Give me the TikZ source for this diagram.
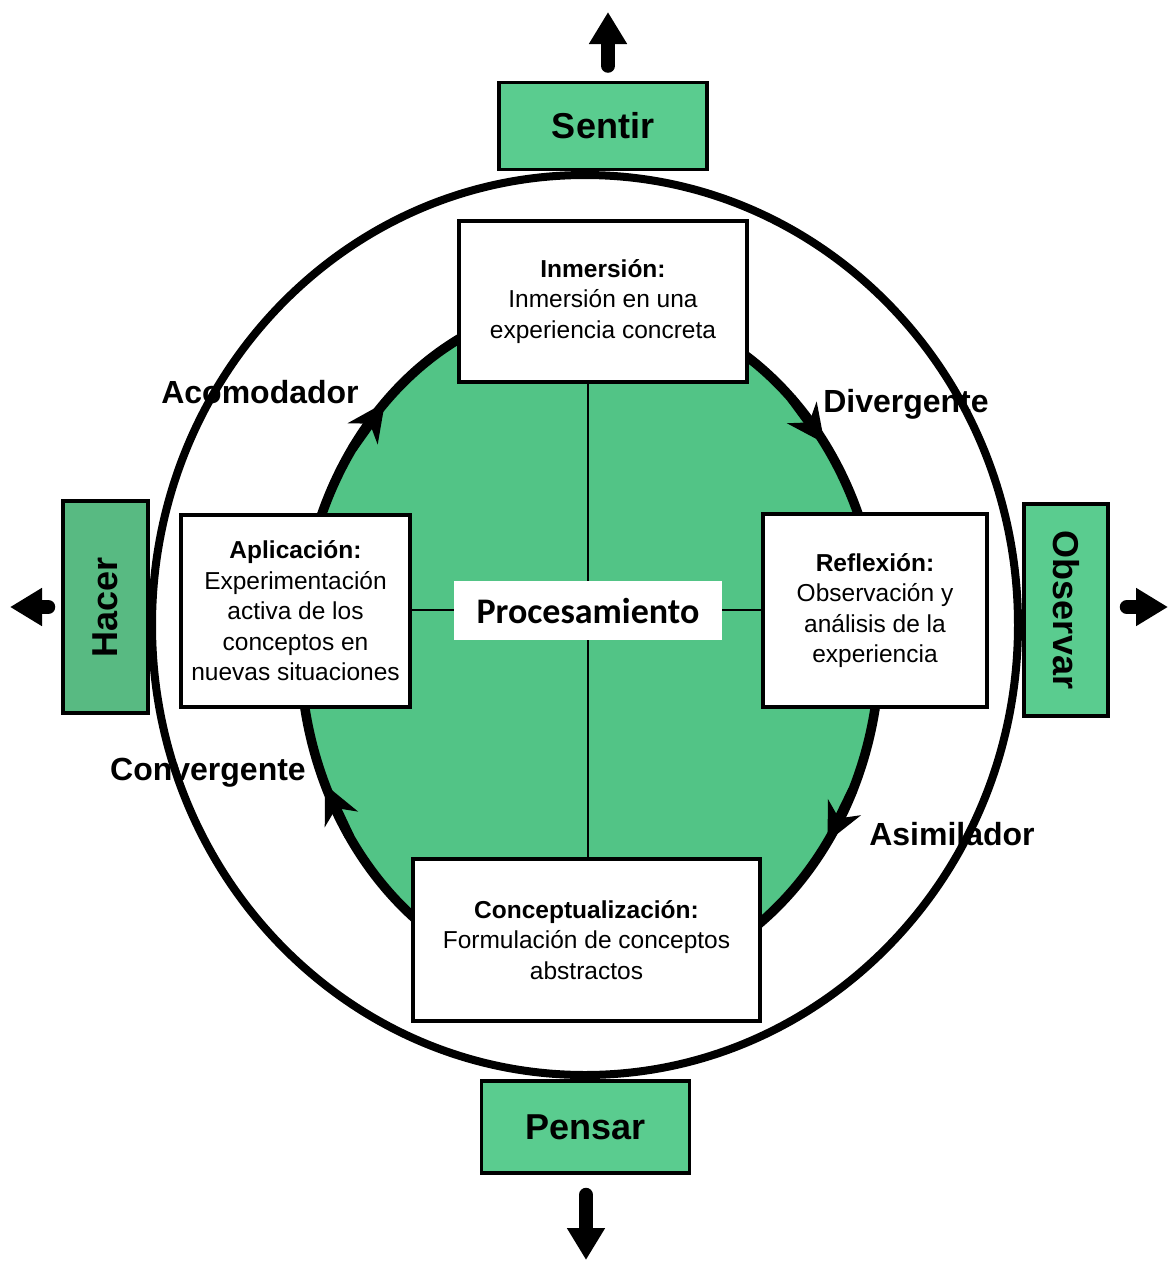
\documentclass[tikz,border=0pt]{standalone}
\usepackage{fontspec}
\setmainfont{Liberation Sans}
\newfontfamily\calibri{Carlito}
\usetikzlibrary{positioning, arrows.meta}
\definecolor{boxgreen}{RGB}{90,204,143}
\definecolor{hacergreen}{RGB}{88,186,130}
\definecolor{cyclegreen}{RGB}{82,196,134}

\begin{document}
\begin{tikzpicture}[x=1pt, y=-1pt, >={Stealth[inset=12pt,length=38pt,width=36pt]},
                    box/.style={draw, line width=3.5pt, fill=white, align=center, inner sep=0pt,
                                font=\fontsize{24.5}{30.5}\selectfont},
                    sense/.style={draw, line width=3.5pt, fill=boxgreen, inner sep=0pt,
                                  font=\bfseries\fontsize{36}{40}\selectfont},
                    stage/.style={inner sep=0pt, font=\bfseries\fontsize{32}{36}\selectfont},
                    outarrow/.style={-{Triangle[length=32pt,width=36pt]}, line width=14pt, line cap=round}]
    \useasboundingbox (0,0) rectangle (1170,1262);

    \coordinate (outc) at (585,625);
    \coordinate (ctr) at (590,645);

    \draw[line width=8pt] (outc) ellipse [x radius=433, y radius=450];
    \draw[line width=9.5pt, fill=cyclegreen] (ctr) ellipse [x radius=290, y radius=343];
    \foreach \t in {225,324,35,156}
        \draw[->, line width=9.5pt] ([shift={(ctr)}]\t-10:290 and 343) -- ([shift={(ctr)}]\t:290 and 343);

    \node[box, minimum width=288, minimum height=161] (inm) at (603,301.5)
        {\textbf{Inmersión:}\\Inmersión en una\\experiencia concreta};
    \node[box, minimum width=224, minimum height=193] (ref) at (875,610.5)
        {\textbf{Reflexión:}\\Observación y\\análisis de la\\experiencia};
    \node[box, minimum width=347, minimum height=162] (con) at (586.5,940)
        {\textbf{Conceptualización:}\\Formulación de conceptos\\abstractos};
    \node[box, minimum width=229, minimum height=192] (apl) at (295.5,611)
        {\textbf{Aplicación:}\\Experimentación\\activa de los\\conceptos en\\nuevas situaciones};

    \coordinate (mid) at (588,610);
    \draw[line width=2.5pt] (mid |- inm.south) -- (mid |- con.north);
    \draw[line width=2.5pt] (apl.east |- mid) -- (ref.west |- mid);
    \node[fill=white, minimum width=268, minimum height=59, inner sep=0pt,
          font=\calibri\bfseries\fontsize{36}{40}\selectfont] (proc) at (588,610.5) {Procesamiento};

    % senses round the cycle
    \node[sense, minimum width=208, minimum height=87] (sentir) at (603,126) {Sentir};
    \node[sense, minimum width=208, minimum height=92] (pensar) at (585.5,1127) {Pensar};
    \node[sense, fill=hacergreen, minimum width=85, minimum height=212] (hacer) at (105.5,607)
        {\rotatebox{90}{Hacer}};
    \node[sense, minimum width=84, minimum height=212] (obs) at (1066,610)
        {\rotatebox{-90}{Observar}};

    \coordinate (upend) at (608,12);
    \coordinate (downend) at (586,1260);
    \coordinate (leftend) at (10,607);
    \coordinate (rightend) at (1168,607);
    \draw[outarrow, shorten <=15pt] (upend |- sentir.north) -- (upend);
    \draw[outarrow, shorten <=20pt] (downend |- pensar.south) -- (downend);
    \draw[outarrow, shorten <=13pt] (hacer.west |- leftend) -- (leftend);
    \draw[outarrow, shorten <=17pt] (obs.east |- rightend) -- (rightend);

    % learning styles
    \node[stage] (acom) at (260,392) {Acomodador};
    \node[stage] (div) at (906,404) {Divergente};
    \node[stage] (conv) at (208,773) {Convergente};
    \node[stage] (asim) at (952,834) {Asimilador};
\end{tikzpicture}
\end{document}
